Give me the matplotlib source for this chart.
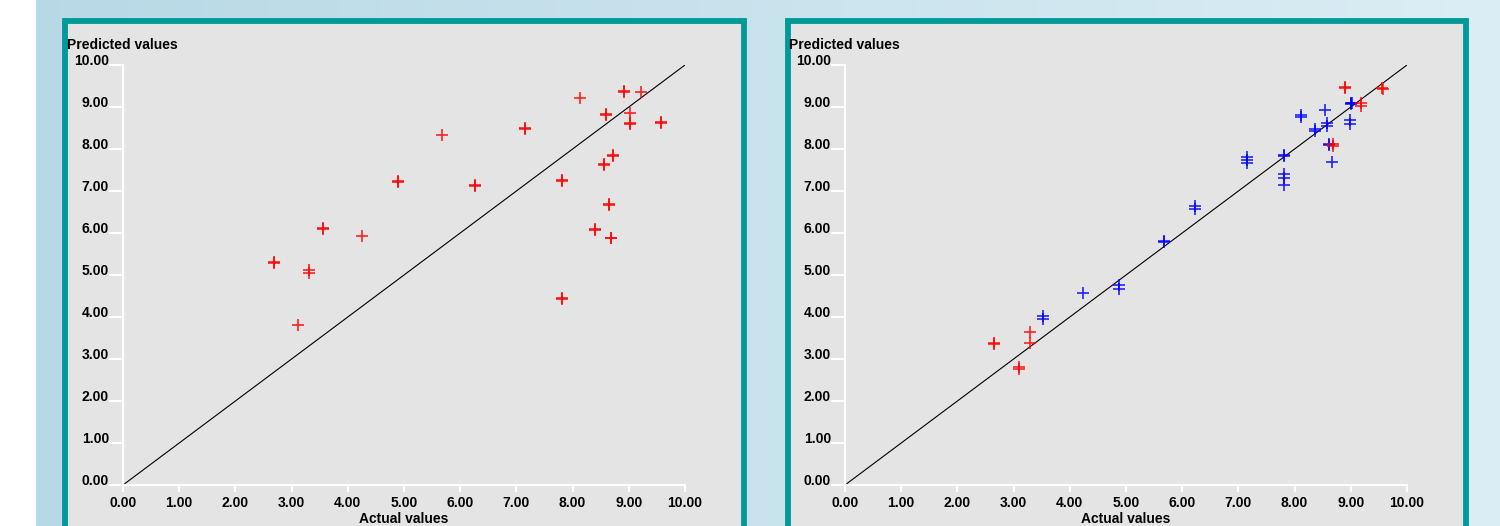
import numpy as np
import matplotlib
matplotlib.use('Agg')
import matplotlib.pyplot as plt
from matplotlib.patches import Rectangle

plt.rcParams['font.family'] = ['Liberation Sans', 'DejaVu Sans']
plt.rcParams['font.weight'] = 'bold'

W, H = 1500, 526

# left chart: all points red
left_x = [2.69, 2.69, 3.31, 3.31, 3.55, 3.55, 3.11, 4.25, 4.90, 4.90, 5.68,
          6.26, 6.26, 7.16, 7.16, 8.13, 8.92, 8.92, 9.21, 8.59, 8.59, 9.03,
          9.02, 9.02, 9.57, 9.57, 8.71, 8.71, 8.56, 8.56, 7.81, 7.81, 8.65,
          8.65, 8.39, 8.39, 8.69, 8.69, 7.82, 7.82]
left_y = [5.30, 5.28, 5.12, 5.05, 6.12, 6.10, 3.81, 5.92, 7.23, 7.21, 8.33,
          7.15, 7.13, 8.50, 8.48, 9.22, 9.38, 9.36, 9.36, 8.84, 8.82, 8.86,
          8.62, 8.60, 8.64, 8.62, 7.86, 7.84, 7.64, 7.62, 7.27, 7.25, 6.68,
          6.66, 6.09, 6.07, 5.89, 5.87, 4.45, 4.43]

# right chart: blue and red points
blue_x = [8.11, 8.11, 8.54, 8.57, 8.57, 8.36, 8.36, 9.00, 9.00, 9.03,
          8.99, 8.99, 8.61, 8.61, 8.67, 7.81, 7.81, 7.15, 7.15, 7.15,
          7.81, 7.81, 7.81, 6.23, 6.23, 5.67, 5.67, 4.88, 4.88, 4.23,
          3.53, 3.53]
blue_y = [8.80, 8.77, 8.94, 8.62, 8.55, 8.48, 8.42, 9.10, 9.08, 9.10,
          8.68, 8.59, 8.12, 8.10, 7.69, 7.86, 7.84, 7.80, 7.73, 7.66,
          7.40, 7.30, 7.15, 6.64, 6.58, 5.82, 5.78, 4.77, 4.66, 4.57,
          4.03, 3.96]
red_x = [8.90, 8.90, 9.56, 9.57, 9.18, 9.19, 8.68, 8.69, 2.66, 2.66, 3.29,
         3.29, 3.09, 3.10]
red_y = [9.48, 9.46, 9.46, 9.42, 9.09, 9.03, 8.12, 8.07, 3.38, 3.36, 3.65,
         3.38, 2.82, 2.76]

ticks = np.arange(0, 11)
tick_labels = ['%.2f' % t for t in ticks]

fig = plt.figure(figsize=(W / 100, H / 100), dpi=100)
fig.patch.set_facecolor('white')

# gradient background
bg = fig.add_axes([36 / W, 0, 1 - 36 / W, 1])
bg.set_zorder(-5)
grad = np.linspace(0, 1, 256)[None, :, None]
c0 = np.array([0.72, 0.85, 0.90])
c1 = np.array([0.86, 0.93, 0.96])
bg.imshow(c0 + (c1 - c0) * grad, aspect='auto', extent=[0, 1, 0, 1])
bg.axis('off')


def px(x, y):
    return x / W, 1 - y / H


def panel(x0, x1):
    # teal framed gray box
    left, top = px(x0, 21)
    right, _ = px(x1, 0)
    fig.patches.append(Rectangle((left, -0.1), right - left, top + 0.1,
                                 transform=fig.transFigure,
                                 facecolor='#e4e4e4', edgecolor='#009a98',
                                 linewidth=4.2, zorder=-1))


def chart(x0, series):
    l, b = px(x0, 485)
    ax = fig.add_axes([l, b, 562 / W, 420 / H])
    ax.set_zorder(2)
    ax.patch.set_visible(False)
    ax.plot([0, 10], [0, 10], color='black', lw=0.8, zorder=1)
    for xs, ys, c in series:
        ax.plot(xs, ys, '+', color=c, ms=9, mew=1.2, alpha=0.85, zorder=2)
    ax.set_xlim(0, 10)
    ax.set_ylim(0, 10)
    ax.set_xticks(ticks)
    ax.set_xticklabels(tick_labels)
    ax.set_yticks(ticks)
    ax.set_yticklabels(tick_labels)
    for s in ['top', 'right']:
        ax.spines[s].set_visible(False)
    for s in ['left', 'bottom']:
        ax.spines[s].set_color('white')
        ax.spines[s].set_linewidth(1.5)
    ax.tick_params(axis='y', length=10, width=1.5, color='white', pad=0,
                   labelsize=10)
    ax.tick_params(axis='x', length=5, width=1.5, color='white', pad=3,
                   labelsize=10)
    for t in ax.get_yticklabels():
        t.set_va('baseline')
    ax.set_ylabel('Predicted values', rotation=0, ha='left', va='center',
                  fontsize=10, fontweight='bold')
    ax.yaxis.set_label_coords(-0.0996, 1.0476)
    ax.set_xlabel('Actual values', ha='center', va='center', fontsize=10,
                  fontweight='bold')
    ax.xaxis.set_label_coords(0.5, -0.081)
    return ax


panel(64.5, 743.5)
panel(787.5, 1465.5)

chart(123, [(left_x, left_y, 'red')])
chart(845, [(blue_x, blue_y, 'blue'), (red_x, red_y, 'red')])

fig.savefig('out.png', dpi=100)
